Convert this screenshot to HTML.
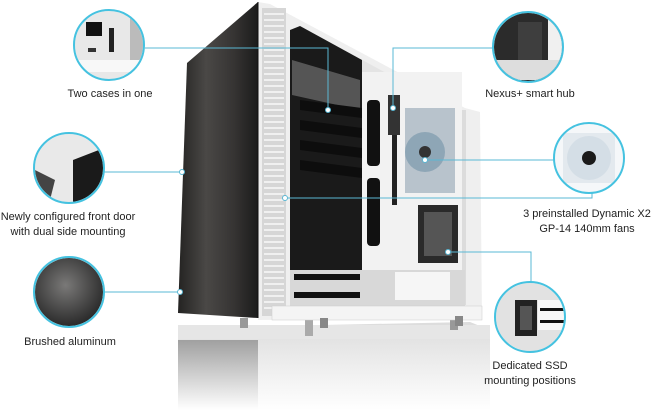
<!DOCTYPE html>
<html><head><meta charset="utf-8"><style>
html,body{margin:0;padding:0;background:#fff;}
svg{display:block}
text{font-family:"Liberation Sans",Arial,sans-serif;font-size:11px;fill:#222}
</style></head><body>
<svg width="656" height="410" viewBox="0 0 656 410" xmlns="http://www.w3.org/2000/svg">
<defs>
<linearGradient id="alu" x1="0" x2="1" y1="0" y2="0">
<stop offset="0" stop-color="#242322"/><stop offset="0.35" stop-color="#4a4846"/><stop offset="0.7" stop-color="#363433"/><stop offset="1" stop-color="#1b1b1b"/></linearGradient>
<radialGradient id="aluc" cx="0.45" cy="0.4" r="0.6"><stop offset="0" stop-color="#7a7978"/><stop offset="1" stop-color="#2b2b2b"/></radialGradient>
<linearGradient id="refl" x1="0" x2="0" y1="0" y2="1"><stop offset="0" stop-color="#dcdcdc"/><stop offset="1" stop-color="#fff"/></linearGradient>
<linearGradient id="reflL" x1="0" x2="0" y1="0" y2="1"><stop offset="0" stop-color="#a0a0a0"/><stop offset="1" stop-color="#fff"/></linearGradient>
<clipPath id="c1"><circle cx="109" cy="45" r="34"/></clipPath>
<clipPath id="c2"><circle cx="69" cy="168" r="34"/></clipPath>
<clipPath id="c4"><circle cx="528" cy="47" r="34"/></clipPath>
<clipPath id="c5"><circle cx="589" cy="158" r="34"/></clipPath>
<clipPath id="c6"><circle cx="530" cy="317" r="34"/></clipPath>
</defs>

<polygon points="178,328 470,322 490,330 490,410 178,410" fill="url(#refl)"/>
<polygon points="178,340 258,340 258,410 178,410" fill="url(#reflL)"/>
<rect x="178" y="325" width="312" height="14" fill="#e6e6e6"/>
<rect x="240" y="318" width="8" height="10" fill="#999"/>
<rect x="305" y="318" width="8" height="18" fill="#aaa"/>
<rect x="450" y="316" width="8" height="14" fill="#999"/>

<polygon points="258,2 270,4 465,108 480,112 482,318 258,320" fill="#efefef"/>
<rect x="262" y="8" width="24" height="308" fill="#d6d6d6"/>
<g stroke="#fff" stroke-width="1.2">
<path d="M264 14h20M264 20h20M264 26h20M264 32h20M264 38h20M264 44h20M264 50h20M264 56h20M264 62h20M264 68h20M264 74h20M264 80h20M264 86h20M264 92h20M264 98h20M264 104h20M264 110h20M264 116h20M264 122h20M264 128h20M264 134h20M264 140h20M264 146h20M264 152h20M264 158h20M264 164h20M264 170h20M264 176h20M264 182h20M264 188h20M264 194h20M264 200h20M264 206h20M264 212h20M264 218h20M264 224h20M264 230h20M264 236h20M264 242h20M264 248h20M264 254h20M264 260h20M264 266h20M264 272h20M264 278h20M264 284h20M264 290h20M264 296h20M264 302h20M264 308h20"/>
</g>
<polygon points="290,30 300,26 465,116 465,305 290,308" fill="#e4e4e4"/>
<polygon points="290,30 300,26 362,60 362,305 290,308" fill="#1a1a1a"/>
<polygon points="292,60 360,80 360,110 292,95" fill="#555"/>
<g fill="#0d0d0d"><polygon points="300,100 362,108 362,118 300,110"/><polygon points="300,120 362,128 362,138 300,130"/><polygon points="300,140 362,148 362,158 300,150"/><polygon points="300,160 362,168 362,178 300,170"/></g>
<rect x="362" y="72" width="100" height="232" fill="#f2f2f2"/>
<rect x="462" y="110" width="4" height="195" fill="#dcdcdc"/>
<rect x="367" y="100" width="13" height="66" rx="4" fill="#111"/>
<rect x="367" y="178" width="13" height="68" rx="4" fill="#111"/>
<rect x="388" y="95" width="12" height="40" fill="#333"/>
<rect x="392" y="135" width="5" height="70" fill="#222"/>
<rect x="405" y="108" width="50" height="85" fill="#b8c3cc"/>
<circle cx="425" cy="152" r="20" fill="#8ea6b6"/>
<circle cx="425" cy="152" r="6" fill="#333"/>
<rect x="418" y="205" width="40" height="58" fill="#2a2a2a"/>
<rect x="424" y="212" width="28" height="44" fill="#555"/>
<rect x="290" y="270" width="175" height="36" fill="#d8d8d8"/>
<rect x="294" y="274" width="66" height="6" fill="#111"/>
<rect x="294" y="292" width="66" height="6" fill="#111"/>
<rect x="395" y="272" width="55" height="28" fill="#f6f6f6"/>
<rect x="272" y="306" width="210" height="14" fill="#f4f4f4" stroke="#ccc" stroke-width="0.5"/>
<rect x="320" y="318" width="8" height="10" fill="#888"/>
<rect x="455" y="316" width="8" height="10" fill="#888"/>
<polygon points="187,63 258,2 258,318 178,313" fill="url(#alu)"/>
<line x1="258" y1="2" x2="258" y2="318" stroke="#111" stroke-width="1"/>

<g stroke="#5ab8d4" stroke-width="1" fill="none">
<path d="M145 48H328V110"/>
<path d="M104 172H182"/>
<path d="M104 292H180"/>
<path d="M493 48H393V108"/>
<path d="M554 160H425"/>
<path d="M285 198H592V193"/>
<path d="M448 252H531V283"/>
</g>
<g fill="#fff" stroke="#5ab8d4" stroke-width="1">
<circle cx="182" cy="172" r="2.5"/><circle cx="180" cy="292" r="2.5"/>
<circle cx="328" cy="110" r="2.5"/><circle cx="393" cy="108" r="2.5"/>
<circle cx="425" cy="160" r="2.5"/><circle cx="285" cy="198" r="2.5"/><circle cx="448" cy="252" r="2.5"/>
</g>

<g clip-path="url(#c1)"><rect x="70" y="5" width="80" height="80" fill="#e8e8e8"/><rect x="86" y="22" width="16" height="14" fill="#111"/><rect x="109" y="28" width="5" height="24" fill="#222"/><rect x="88" y="48" width="8" height="4" fill="#333"/><rect x="130" y="15" width="14" height="50" fill="#bbb"/><rect x="75" y="60" width="70" height="12" fill="#f8f8f8"/></g>
<g clip-path="url(#c2)"><rect x="30" y="130" width="80" height="80" fill="#e9e9e9"/><polygon points="73,160 104,148 104,210 73,210" fill="#1a1a1a"/><polygon points="35,170 55,180 50,200 35,200" fill="#444"/></g>
<circle cx="69" cy="292" r="34" fill="url(#aluc)"/>
<g clip-path="url(#c4)"><rect x="490" y="10" width="80" height="80" fill="#2b2b2b"/><rect x="518" y="22" width="24" height="40" fill="#3e3e3e"/><rect x="495" y="60" width="70" height="20" fill="#ddd"/><rect x="548" y="10" width="20" height="50" fill="#f0f0f0"/></g>
<g clip-path="url(#c5)"><rect x="550" y="120" width="80" height="80" fill="#f5f7f9"/><rect x="563" y="133" width="52" height="50" fill="#e3e9ee"/><circle cx="589" cy="158" r="22" fill="#d4dee6"/><circle cx="589" cy="158" r="7" fill="#1a1a1a"/></g>
<g clip-path="url(#c6)"><rect x="490" y="280" width="80" height="80" fill="#e2e2e2"/><rect x="515" y="300" width="22" height="36" fill="#222"/><rect x="520" y="306" width="12" height="24" fill="#555"/><rect x="538" y="300" width="30" height="30" fill="#f7f7f7"/><rect x="540" y="308" width="26" height="3" fill="#111"/><rect x="540" y="320" width="26" height="3" fill="#111"/></g>
<g fill="none" stroke="#45c2e0" stroke-width="2">
<circle cx="109" cy="45" r="35"/><circle cx="69" cy="168" r="35"/><circle cx="69" cy="292" r="35"/>
<circle cx="528" cy="47" r="35"/><circle cx="589" cy="158" r="35"/><circle cx="530" cy="317" r="35"/>
</g>

<g text-anchor="middle">
<text x="110" y="97">Two cases in one</text>
<text x="68" y="220">Newly configured front door</text>
<text x="68" y="235">with dual side mounting</text>
<text x="70" y="345">Brushed aluminum</text>
<text x="530" y="97">Nexus+ smart hub</text>
<text x="587" y="217">3 preinstalled Dynamic X2</text>
<text x="587" y="232">GP-14 140mm fans</text>
<text x="530" y="369">Dedicated SSD</text>
<text x="530" y="384">mounting positions</text>
</g>
</svg>
</body></html>
